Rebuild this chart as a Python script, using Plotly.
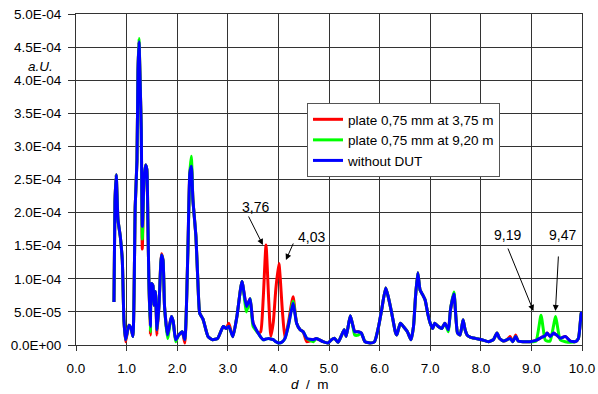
import plotly.graph_objects as go

# distance d / m
d_m = [
    0.75, 0.77, 0.795, 0.83, 0.875, 0.915, 0.947, 0.98, 1.046, 1.09,
    1.125, 1.17, 1.205, 1.225, 1.245, 1.27, 1.29, 1.31, 1.345, 1.376,
    1.40, 1.42, 1.44, 1.47, 1.49, 1.52, 1.54, 1.57, 1.60, 1.64,
    1.69, 1.72, 1.75, 1.81, 1.885, 1.92, 1.97, 2.03, 2.10, 2.15,
    2.21, 2.25, 2.28, 2.31, 2.37, 2.41, 2.445, 2.51, 2.61, 2.70,
    2.80, 2.91, 2.97, 3.02, 3.10, 3.18, 3.28, 3.37, 3.44, 3.50,
    3.60, 3.65, 3.70, 3.755, 3.81, 3.85, 3.90, 3.95, 4.01, 4.08,
    4.13, 4.20, 4.29, 4.36, 4.43, 4.49, 4.56, 4.69, 4.75, 4.88,
    4.98, 5.05, 5.11, 5.18, 5.25, 5.30, 5.34, 5.42, 5.46, 5.51,
    5.58, 5.64, 5.71, 5.81, 5.90, 5.98, 6.04, 6.12, 6.17, 6.24,
    6.31, 6.34, 6.41, 6.47, 6.55, 6.62, 6.67, 6.71, 6.755, 6.80,
    6.85, 6.90, 6.95, 7.00, 7.05, 7.09, 7.16, 7.23, 7.29, 7.36,
    7.40, 7.47, 7.54, 7.59, 7.65, 7.69, 7.73, 7.79, 7.89, 8.02,
    8.15, 8.25, 8.32, 8.37, 8.45, 8.52, 8.58, 8.63, 8.69, 8.74,
    8.84, 8.97, 9.09, 9.19, 9.27, 9.31, 9.37, 9.44, 9.475, 9.50,
    9.57, 9.67, 9.77, 9.87, 9.93, 9.985, 10.0,
]

# values in units of 1E-04 a.U.
without_dut = [
    0.65, 2.16, 2.57, 1.89, 1.64, 1.28, 0.38, 0.08, 0.30, 0.25,
    0.13, 2.09, 2.79, 4.15, 4.58, 3.90, 3.25, 1.79, 2.50, 2.72,
    2.65, 1.90, 0.98, 0.28, 0.93, 0.90, 0.60, 0.81, 0.23, 0.60,
    1.36, 1.28, 0.58, 0.15, 0.43, 0.36, 0.08, 0.15, 0.20, 0.08,
    1.39, 2.60, 2.70, 2.20, 1.64, 0.93, 0.48, 0.39, 0.125, 0.08,
    0.10, 0.28, 0.25, 0.28, 0.125, 0.43, 0.96, 0.58, 0.70, 0.33,
    0.18, 0.12, 0.08, 0.09, 0.10, 0.09, 0.08, 0.05, 0.03, 0.05,
    0.10, 0.30, 0.63, 0.33, 0.23, 0.20, 0.10, 0.08, 0.10, 0.05,
    0.03, 0.08, 0.10, 0.04, 0.15, 0.23, 0.13, 0.44, 0.33, 0.20,
    0.20, 0.18, 0.05, 0.03, 0.05, 0.28, 0.53, 0.86, 0.73, 0.48,
    0.20, 0.15, 0.33, 0.28, 0.20, 0.08, 0.28, 0.73, 1.09, 0.83,
    0.76, 0.68, 0.48, 0.33, 0.25, 0.33, 0.28, 0.25, 0.33, 0.23,
    0.53, 0.77, 0.18, 0.15, 0.38, 0.23, 0.15, 0.12, 0.10, 0.08,
    0.05, 0.08, 0.18, 0.10, 0.06, 0.08, 0.10, 0.05, 0.13, 0.06,
    0.05, 0.05, 0.07, 0.11, 0.14, 0.18, 0.13, 0.18, 0.16, 0.15,
    0.10, 0.13, 0.06, 0.05, 0.10, 0.48, 0.50,
]

plate_375 = [
    0.65, 2.16, 2.57, 1.89, 1.64, 1.28, 0.38, 0.05, 0.30, 0.25,
    0.13, 2.09, 2.79, 4.15, 4.58, 3.90, 3.25, 1.45, 2.50, 2.72,
    2.65, 1.90, 0.98, 0.15, 0.93, 0.90, 0.60, 0.81, 0.15, 0.60,
    1.38, 1.28, 0.58, 0.15, 0.43, 0.36, 0.08, 0.15, 0.20, 0.03,
    1.39, 2.60, 2.72, 2.20, 1.64, 0.93, 0.48, 0.39, 0.125, 0.08,
    0.10, 0.28, 0.25, 0.33, 0.125, 0.43, 0.96, 0.58, 0.70, 0.33,
    0.18, 0.20, 0.70, 1.51, 0.65, 0.13, 0.35, 0.85, 1.23, 0.50,
    0.10, 0.35, 0.73, 0.33, 0.23, 0.20, 0.05, 0.08, 0.10, 0.05,
    0.03, 0.08, 0.10, 0.04, 0.15, 0.23, 0.13, 0.44, 0.33, 0.20,
    0.20, 0.18, 0.05, 0.03, 0.05, 0.28, 0.53, 0.86, 0.73, 0.48,
    0.20, 0.15, 0.33, 0.28, 0.20, 0.08, 0.28, 0.73, 1.09, 0.83,
    0.76, 0.68, 0.48, 0.33, 0.25, 0.33, 0.28, 0.25, 0.33, 0.23,
    0.53, 0.77, 0.18, 0.15, 0.38, 0.23, 0.15, 0.12, 0.10, 0.08,
    0.05, 0.08, 0.18, 0.10, 0.06, 0.08, 0.13, 0.05, 0.15, 0.06,
    0.05, 0.05, 0.07, 0.11, 0.14, 0.18, 0.13, 0.18, 0.16, 0.15,
    0.10, 0.13, 0.06, 0.05, 0.10, 0.48, 0.50,
]

plate_920 = [
    0.65, 2.16, 2.57, 1.89, 1.64, 1.28, 0.38, 0.08, 0.30, 0.25,
    0.13, 2.09, 2.79, 4.15, 4.63, 3.90, 3.25, 1.60, 2.50, 2.72,
    2.65, 1.90, 0.98, 0.20, 0.93, 0.90, 0.60, 0.81, 0.23, 0.60,
    1.36, 1.28, 0.58, 0.10, 0.43, 0.36, 0.05, 0.15, 0.20, 0.08,
    1.39, 2.60, 2.85, 2.20, 1.64, 0.93, 0.48, 0.39, 0.125, 0.08,
    0.10, 0.28, 0.25, 0.28, 0.125, 0.43, 0.96, 0.50, 0.70, 0.28,
    0.18, 0.12, 0.08, 0.09, 0.10, 0.09, 0.08, 0.05, 0.03, 0.05,
    0.10, 0.30, 0.66, 0.33, 0.23, 0.20, 0.10, 0.05, 0.10, 0.05,
    0.03, 0.08, 0.10, 0.04, 0.15, 0.23, 0.13, 0.44, 0.33, 0.15,
    0.15, 0.18, 0.05, 0.03, 0.05, 0.28, 0.53, 0.86, 0.73, 0.48,
    0.20, 0.15, 0.33, 0.28, 0.20, 0.08, 0.28, 0.73, 1.09, 0.83,
    0.76, 0.68, 0.48, 0.33, 0.25, 0.33, 0.28, 0.25, 0.33, 0.20,
    0.53, 0.80, 0.18, 0.15, 0.38, 0.23, 0.15, 0.12, 0.10, 0.08,
    0.05, 0.08, 0.18, 0.10, 0.06, 0.08, 0.10, 0.05, 0.13, 0.06,
    0.05, 0.05, 0.06, 0.45, 0.08, 0.06, 0.06, 0.30, 0.43, 0.35,
    0.08, 0.05, 0.04, 0.05, 0.10, 0.48, 0.50,
]

series_names = ["plate 0,75 mm at 3,75 m", "plate 0,75 mm at 9,20 m", "without DUT"]

y_tick_vals = [0, 0.5, 1.0, 1.5, 2.0, 2.5, 3.0, 3.5, 4.0, 4.5, 5.0]
y_tick_text = ["0.0E+00", "5.0E-05", "1.0E-04", "1.5E-04", "2.0E-04", "2.5E-04",
               "3.0E-04", "3.5E-04", "4.0E-04", "4.5E-04", "5.0E-04"]
x_tick_vals = [0, 1, 2, 3, 4, 5, 6, 7, 8, 9, 10]
x_tick_text = ["0.0", "1.0", "2.0", "3.0", "4.0", "5.0", "6.0", "7.0", "8.0", "9.0", "10.0"]

# peak labels: text, text position, arrow tail, arrow head (x in m, y in 1E-04)
peak_labels = ["3,76", "4,03", "9,19", "9,47"]
label_x = [3.554, 4.663, 8.525, 9.614]
label_y = [2.085, 1.631, 1.662, 1.662]
tail_x = [3.396, 4.307, 8.525, 9.535]
tail_y = [1.964, 1.556, 1.48, 1.36]
head_x = [3.693, 4.149, 9.04, 9.475]
head_y = [1.511, 1.284, 0.514, 0.514]

FONT = "Liberation Sans, Arial, sans-serif"

fig = go.Figure()
fig.add_trace(go.Scatter(x=d_m, y=plate_375, mode="lines", name=series_names[0],
                         line=dict(color="#FF0000", width=3, shape="spline", smoothing=0.5),
                         legendgroup="a"))
fig.add_trace(go.Scatter(x=d_m, y=plate_920, mode="lines", name=series_names[1],
                         line=dict(color="#00FF00", width=3, shape="spline", smoothing=0.5),
                         legendgroup="b"))
fig.add_trace(go.Scatter(x=d_m, y=without_dut, mode="lines", name=series_names[2],
                         line=dict(color="#0000FF", width=3, shape="spline", smoothing=0.5),
                         legendgroup="c"))

annotations = []
for t, lx, ly, tx, ty, hx, hy in zip(peak_labels, label_x, label_y, tail_x, tail_y, head_x, head_y):
    annotations.append(dict(x=lx, y=ly, xref="x", yref="y", text=t, showarrow=False,
                            xanchor="center", yanchor="middle",
                            font=dict(size=14, color="black", family=FONT)))
    annotations.append(dict(x=hx, y=hy, ax=tx, ay=ty, xref="x", yref="y", axref="x", ayref="y",
                            text="", showarrow=True, arrowhead=2, arrowsize=1.2, arrowwidth=1,
                            arrowcolor="black", standoff=0, startstandoff=0))
annotations.append(dict(x=-0.0711, y=0.840, xref="paper", yref="paper", text="<i>a.U.</i>",
                        xanchor="center", yanchor="middle",
                        showarrow=False, font=dict(size=13.5, color="black", family=FONT)))
annotations.append(dict(x=0.4625, y=-0.118, xref="paper", yref="paper", text="<i>d</i>  /  m",
                        xanchor="center", yanchor="middle",
                        showarrow=False, font=dict(size=13.5, color="black", family=FONT)))

fig.update_layout(
    width=598, height=394,
    margin=dict(l=76, r=16, t=14, b=49),
    plot_bgcolor="white", paper_bgcolor="white",
    font=dict(family=FONT, size=13.5, color="black"),
    showlegend=True,
    legend=dict(x=0.4565, y=0.731, xanchor="left", yanchor="top",
                bgcolor="white", bordercolor="#555555", borderwidth=1,
                tracegroupgap=0, font=dict(size=13.5, family=FONT, color="black")),
    annotations=annotations,
    hovermode=False,
)
fig.update_xaxes(range=[0, 10], tickvals=x_tick_vals, ticktext=x_tick_text,
                 showgrid=True, gridcolor="#333333", gridwidth=1,
                 showline=True, linecolor="#333333", linewidth=1, mirror=True,
                 ticks="outside", ticklen=5, tickcolor="#333333", automargin=False,
                 zeroline=False, ticklabelstandoff=6)
fig.update_yaxes(range=[0, 5.0], tickvals=y_tick_vals, ticktext=y_tick_text,
                 showgrid=True, gridcolor="#333333", gridwidth=1,
                 showline=True, linecolor="#333333", linewidth=1, mirror=True,
                 ticks="outside", ticklen=7, tickcolor="#333333", automargin=False,
                 zeroline=False, ticklabelstandoff=4)

fig.write_html("out.html", config={"displayModeBar": False},
               post_script="document.body.style.margin='0';document.body.style.padding='0';")
